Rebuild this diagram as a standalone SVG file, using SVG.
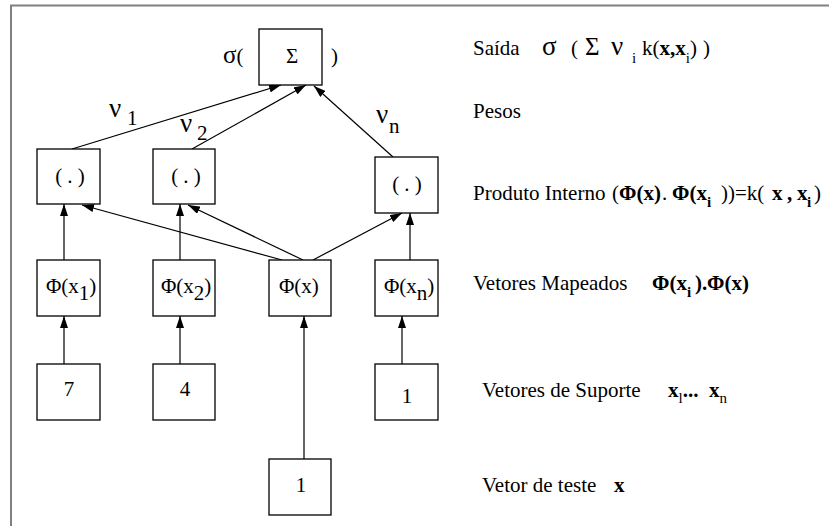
<svg xmlns="http://www.w3.org/2000/svg" width="829" height="526" viewBox="0 0 829 526">
<style>
text{font-family:'Liberation Serif','Times New Roman',Tinos,'DejaVu Serif',serif;font-size:21px;fill:#000}
.s{font-size:15px}
.b{font-weight:bold}
.g{font-size:27px}
.box{fill:#fff;stroke:#000;stroke-width:1.3}
.ln{stroke:#000;stroke-width:1.2;fill:none;marker-end:url(#ah)}
.frame{stroke:#808080;stroke-width:2;fill:none}
</style>
<defs>
<marker id="ah" markerUnits="userSpaceOnUse" markerWidth="12" markerHeight="8" refX="12" refY="4" orient="auto">
<path d="M0,0 L12,4 L0,8 z" fill="#000"/>
</marker>
</defs>
<rect width="829" height="526" fill="#fff"/>
<path class="frame" d="M11,526 V5.5 H829"/>

<g id="connectors">
<line class="ln" x1="72" y1="149" x2="281" y2="85"/>
<line class="ln" x1="192" y1="149" x2="306" y2="85"/>
<line class="ln" x1="393" y1="157" x2="314" y2="86"/>
<line class="ln" x1="64" y1="260" x2="64" y2="204"/>
<line class="ln" x1="180" y1="260" x2="180" y2="204"/>
<line class="ln" x1="410" y1="260" x2="410" y2="213"/>
<line class="ln" x1="282" y1="260" x2="82" y2="205"/>
<line class="ln" x1="303" y1="260" x2="188" y2="205"/>
<line class="ln" x1="313" y1="260" x2="402" y2="213"/>
<line class="ln" x1="64" y1="364" x2="64" y2="316"/>
<line class="ln" x1="180" y1="364" x2="180" y2="316"/>
<line class="ln" x1="402" y1="364" x2="402" y2="316"/>
<line class="ln" x1="304" y1="459" x2="304" y2="316"/>
<text class="g" x="109" y="117">ν</text><text x="127" y="125">1</text>
<text class="g" x="180" y="132">ν</text><text x="197" y="140">2</text>
<text class="g" x="376" y="123">ν</text><text x="389" y="133">n</text>
</g>

<g id="sum">
<rect class="box" x="259" y="29" width="63" height="56"/>
<text x="223" y="63"><tspan font-size="25">σ</tspan>(</text>
<text x="292" y="63" text-anchor="middle" font-size="23">Σ</text>
<text x="331" y="63">)</text>
</g>

<g id="dot1"><rect class="box" x="37" y="149" width="63" height="55"/><text x="70" y="183" text-anchor="middle">( . )</text></g>
<g id="dot2"><rect class="box" x="153" y="149" width="62" height="55"/><text x="186" y="183" text-anchor="middle">( . )</text></g>
<g id="dotn"><rect class="box" x="375" y="157" width="63" height="56"/><text x="407" y="191" text-anchor="middle">( . )</text></g>

<g id="phi1"><rect class="box" x="37" y="260" width="63" height="56"/><text x="46" y="293">Φ(x<tspan dy="7">1</tspan><tspan dy="-7">)</tspan></text></g>
<g id="phi2"><rect class="box" x="153" y="260" width="62" height="56"/><text x="161" y="293">Φ(x<tspan dy="7">2</tspan><tspan dy="-7">)</tspan></text></g>
<g id="phix"><rect class="box" x="269" y="260" width="62" height="56"/><text x="279" y="293">Φ(x)</text></g>
<g id="phin"><rect class="box" x="375" y="260" width="63" height="56"/><text x="384" y="293">Φ(x<tspan dy="7">n</tspan><tspan dy="-7">)</tspan></text></g>

<g id="sv1"><rect class="box" x="37" y="364" width="63" height="56"/><text x="69" y="396" text-anchor="middle">7</text></g>
<g id="sv2"><rect class="box" x="153" y="364" width="62" height="56"/><text x="185" y="396" text-anchor="middle">4</text></g>
<g id="svn"><rect class="box" x="375" y="364" width="63" height="56"/><text x="407" y="403" text-anchor="middle">1</text></g>
<g id="test"><rect class="box" x="269" y="459" width="62" height="56"/><text x="301" y="492" text-anchor="middle">1</text></g>

<g id="labels">
<text x="473" y="55">Saída</text>
<text y="55"><tspan x="542" font-size="27">σ</tspan><tspan x="571">(</tspan><tspan x="585" font-size="25">Σ</tspan><tspan x="611" class="g">ν</tspan><tspan x="632" dy="8" class="s">i</tspan><tspan x="642" dy="-8">k(</tspan><tspan class="b">x,x</tspan><tspan class="s" dy="8">i</tspan><tspan dy="-8">)</tspan><tspan x="703">)</tspan></text>
<text x="473" y="118">Pesos</text>
<text y="200"><tspan x="473">Produto Interno</tspan><tspan x="612">(</tspan><tspan class="b" x="619">Φ(x)</tspan><tspan x="662">.</tspan><tspan class="b" x="672">Φ(x</tspan><tspan class="s b" dy="7">i</tspan><tspan dy="-7" x="721">))=k(</tspan><tspan class="b" x="772">x</tspan><tspan class="b" x="787">,</tspan><tspan class="b" x="797">x</tspan><tspan class="s b" dy="7" x="807">i</tspan><tspan dy="-7" x="814">)</tspan></text>
<text y="290"><tspan x="473">Vetores Mapeados</tspan><tspan class="b" x="652">Φ(x</tspan><tspan class="s b" dy="7">i</tspan><tspan class="b" dy="-7" x="695">).</tspan><tspan class="b" x="707">Φ(x)</tspan></text>
<text y="397"><tspan x="482">Vetores de Suporte</tspan><tspan class="b" x="668">x</tspan><tspan class="s" dy="6">l</tspan><tspan class="b" dy="-6">...</tspan><tspan class="b" x="709">x</tspan><tspan class="s" dy="6">n</tspan></text>
<text y="492"><tspan x="482">Vetor de teste</tspan><tspan class="b" x="614">x</tspan></text>
</g>
</svg>
